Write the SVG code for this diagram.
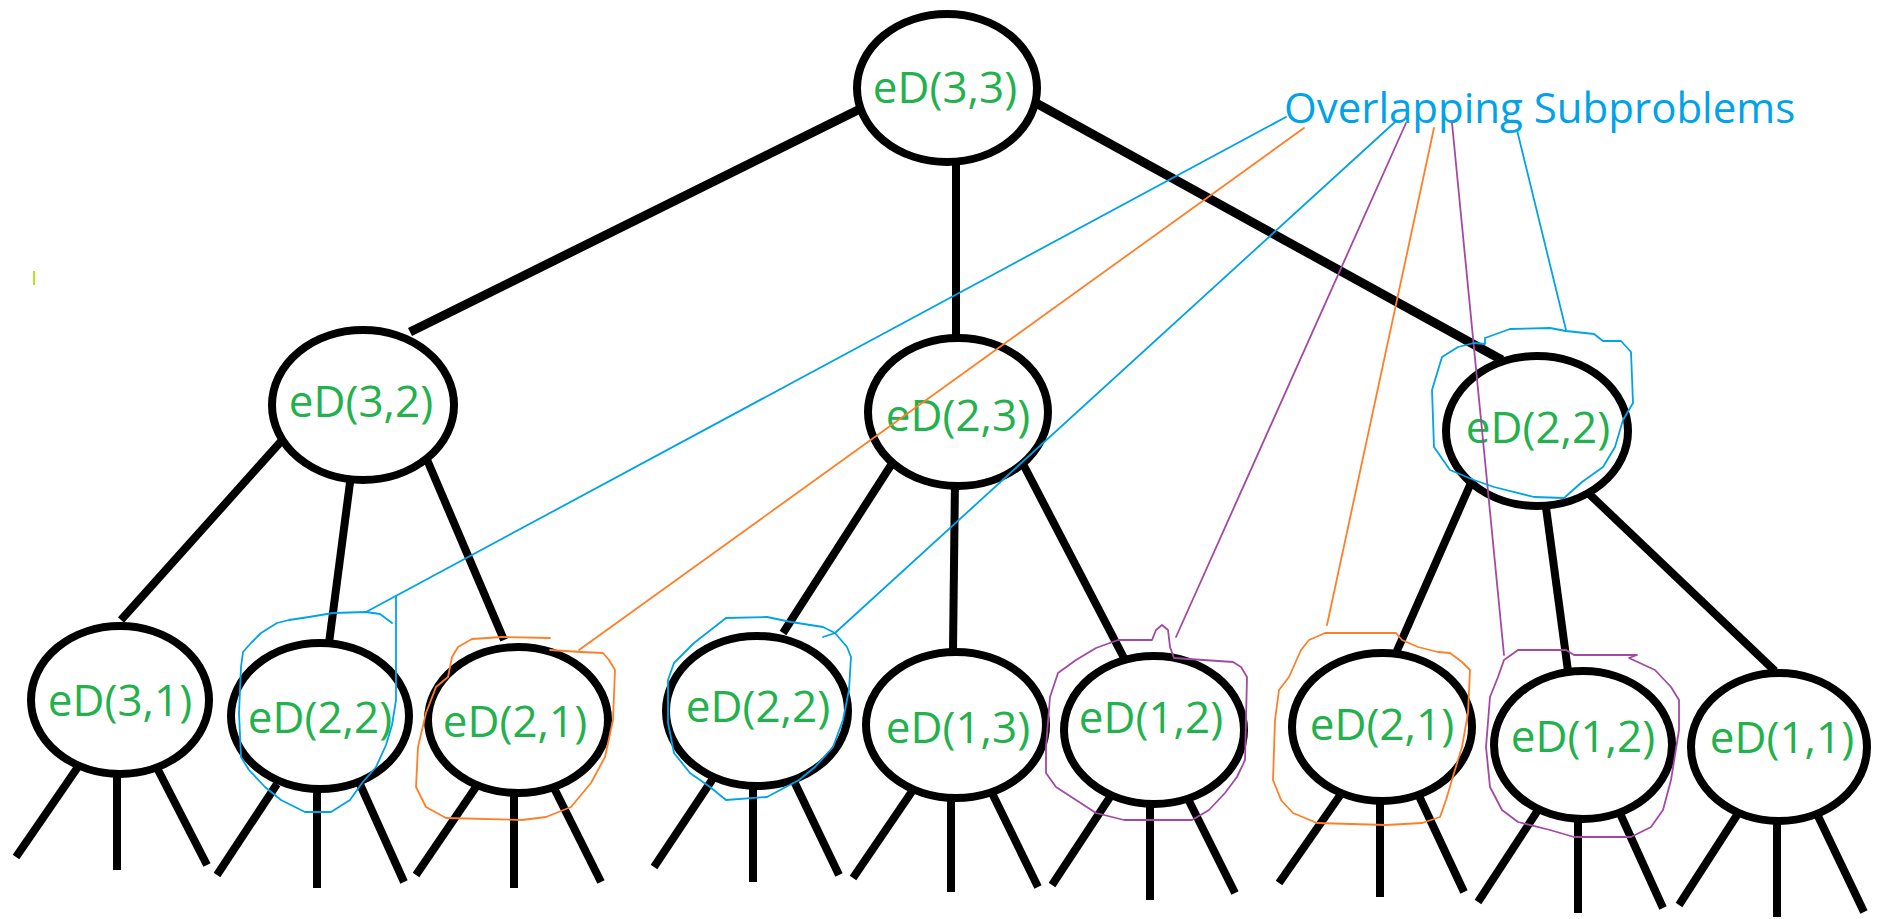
<svg xmlns="http://www.w3.org/2000/svg" width="1883" height="919" viewBox="0 0 1883 919">
  <style>
    .node ellipse { fill: #ffffff; stroke: #000000; stroke-width: 8; }
    .node text { font-family: "Open Sans", "Liberation Sans", sans-serif; font-size: 44px; fill: #22b14c; text-anchor: middle; }
    .edge { stroke: #000000; stroke-width: 8; stroke-linecap: butt; fill: none; }
    .note { fill: none; stroke-width: 1.8; stroke-linejoin: round; stroke-linecap: round; }
    .blue { stroke: #00a2e8; }
    .orange { stroke: #ff7f27; }
    .purple { stroke: #a349a4; }
    .note-label { font-family: "Open Sans", "Liberation Sans", sans-serif; font-size: 42px; fill: #00a2e8; }
  </style>
  <rect width="1883" height="919" fill="#ffffff"/>

  <!-- tree edges -->
  <g id="connectors">
    <line class="edge" x1="862" y1="108" x2="410" y2="332" style="stroke-width:9"/>
    <line class="edge" x1="956" y1="155" x2="956" y2="340"/>
    <line class="edge" x1="1036" y1="103" x2="1502" y2="360" style="stroke-width:9"/>

    <line class="edge" x1="285" y1="437" x2="121" y2="620"/>
    <line class="edge" x1="351" y1="475" x2="329" y2="643"/>
    <line class="edge" x1="425" y1="455" x2="504" y2="640"/>

    <line class="edge" x1="893" y1="462" x2="783" y2="633"/>
    <line class="edge" x1="955" y1="480" x2="953" y2="650"/>
    <line class="edge" x1="1022" y1="462" x2="1124" y2="658"/>

    <line class="edge" x1="1474" y1="476" x2="1396" y2="653"/>
    <line class="edge" x1="1545" y1="500" x2="1568" y2="671"/>
    <line class="edge" x1="1585" y1="490" x2="1775" y2="671"/>

    <!-- lower stubs -->
    <line class="edge" x1="80" y1="764" x2="16" y2="857"/>
    <line class="edge" x1="117" y1="770" x2="117" y2="870"/>
    <line class="edge" x1="156" y1="766" x2="207" y2="865"/>

    <line class="edge" x1="277" y1="784" x2="217" y2="875"/>
    <line class="edge" x1="317" y1="785" x2="317" y2="888"/>
    <line class="edge" x1="359" y1="782" x2="404" y2="882"/>

    <line class="edge" x1="478" y1="784" x2="416" y2="875"/>
    <line class="edge" x1="514" y1="789" x2="514" y2="888"/>
    <line class="edge" x1="553" y1="786" x2="601" y2="882"/>

    <line class="edge" x1="716" y1="774" x2="654" y2="867"/>
    <line class="edge" x1="753" y1="782" x2="753" y2="882"/>
    <line class="edge" x1="792" y1="777" x2="839" y2="875"/>

    <line class="edge" x1="915" y1="787" x2="853" y2="878"/>
    <line class="edge" x1="951" y1="794" x2="951" y2="892"/>
    <line class="edge" x1="991" y1="791" x2="1038" y2="887"/>

    <line class="edge" x1="1112" y1="794" x2="1052" y2="885"/>
    <line class="edge" x1="1150" y1="799" x2="1150" y2="900"/>
    <line class="edge" x1="1187" y1="797" x2="1235" y2="893"/>

    <line class="edge" x1="1341" y1="794" x2="1279" y2="883"/>
    <line class="edge" x1="1380" y1="797" x2="1380" y2="897"/>
    <line class="edge" x1="1419" y1="796" x2="1464" y2="892"/>

    <line class="edge" x1="1540" y1="807" x2="1478" y2="902"/>
    <line class="edge" x1="1578" y1="814" x2="1578" y2="913"/>
    <line class="edge" x1="1618" y1="809" x2="1663" y2="908"/>

    <line class="edge" x1="1739" y1="812" x2="1679" y2="905"/>
    <line class="edge" x1="1777" y1="817" x2="1777" y2="917"/>
    <line class="edge" x1="1817" y1="814" x2="1864" y2="912"/>
  </g>

  <!-- calls -->
  <g id="n-3-3" class="node"><ellipse cx="947" cy="88" rx="90" ry="74"/><text x="945" y="103">eD(3,3)</text></g>
  <g id="n-3-2" class="node"><ellipse cx="363" cy="405" rx="91" ry="75"/><text x="361" y="417">eD(3,2)</text></g>
  <g id="n-2-3" class="node"><ellipse cx="958" cy="412" rx="90" ry="74"/><text x="958" y="431">eD(2,3)</text></g>
  <g id="n-2-2-a" class="node"><ellipse cx="1537" cy="431" rx="91" ry="75"/><text x="1538" y="443">eD(2,2)</text></g>

  <g id="n-3-1" class="node"><ellipse cx="120" cy="700" rx="89" ry="74"/><text x="120" y="716">eD(3,1)</text></g>
  <g id="n-2-2-b" class="node"><ellipse cx="320" cy="716" rx="89" ry="73"/><text x="320" y="733">eD(2,2)</text></g>
  <g id="n-2-1-a" class="node"><ellipse cx="518" cy="720" rx="90" ry="73"/><text x="515" y="737">eD(2,1)</text></g>
  <g id="n-2-2-c" class="node"><ellipse cx="757" cy="711" rx="91" ry="75"/><text x="758" y="722">eD(2,2)</text></g>
  <g id="n-1-3" class="node"><ellipse cx="956" cy="725" rx="90" ry="73"/><text x="958" y="743">eD(1,3)</text></g>
  <g id="n-1-2-a" class="node"><ellipse cx="1154" cy="730" rx="90" ry="74"/><text x="1151" y="733">eD(1,2)</text></g>
  <g id="n-2-1-b" class="node"><ellipse cx="1382" cy="727" rx="90" ry="74"/><text x="1382" y="740">eD(2,1)</text></g>
  <g id="n-1-2-b" class="node"><ellipse cx="1583" cy="745" rx="89" ry="74"/><text x="1583" y="752">eD(1,2)</text></g>
  <g id="n-1-1" class="node"><ellipse cx="1779" cy="747" rx="88" ry="74"/><text x="1782" y="753">eD(1,1)</text></g>

  <!-- hand-drawn annotation: repeated subproblems -->
  <g id="overlap-note">
    <text class="note-label" x="1284" y="123">Overlapping Subproblems</text>

    <line class="note blue" x1="1286" y1="117" x2="366" y2="612"/>
    <path class="note blue" d="M396,596 L396,700 L392,725 L386,745 L376,767 L362,783 L350,800 L331,812 L305,812 L281,800 L265,787 L249,770 L241,757 L239,713 L241,667 L243,652 L251,643 L261,633 L277,623 L289,620 L309,617 L333,613 L366,612 L380,614 L392,623"/>

    <line class="note orange" x1="1304" y1="128" x2="579" y2="650"/>
    <path class="note orange" d="M550,638 L502,637 L472,639 L458,647 L452,657 L448,677 L436,687 L426,713 L418,747 L416,787 L426,807 L446,818 L522,820 L546,817 L571,807 L591,783 L605,757 L613,720 L615,670 L609,660 L603,653 L581,652 L550,650"/>

    <line class="note blue" x1="1395" y1="122" x2="835" y2="633"/>
    <path class="note blue" d="M823,637 L835,633 L847,647 L851,657 L849,690 L843,720 L833,747 L815,767 L799,780 L767,797 L726,800 L710,787 L690,773 L674,753 L668,723 L668,680 L674,663 L694,643 L726,618 L767,617 L791,622 L823,627 L835,633"/>

    <line class="note purple" x1="1406" y1="123" x2="1176" y2="637"/>
    <path class="note purple" d="M1152,640 L1118,640 L1096,648 L1076,660 L1058,673 L1050,697 L1046,747 L1046,773 L1056,787 L1076,800 L1096,813 L1124,820 L1192,820 L1209,810 L1225,793 L1237,777 L1245,760 L1247,677 L1241,667 L1233,662 L1174,658 L1170,647 L1168,630 L1162,625 L1156,630 L1152,640"/>

    <line class="note orange" x1="1434" y1="128" x2="1327" y2="625"/>
    <path class="note orange" d="M1396,633 L1325,633 L1309,640 L1301,650 L1289,677 L1279,690 L1275,720 L1273,780 L1281,800 L1293,813 L1317,823 L1386,825 L1422,823 L1440,817 L1446,800 L1454,773 L1462,747 L1468,713 L1470,670 L1462,662 L1450,653 L1438,652 L1418,647 L1402,640 L1396,633"/>

    <line class="note purple" x1="1452" y1="123" x2="1504" y2="655"/>
    <path class="note purple" d="M1504,660 L1518,650 L1566,650 L1574,655 L1637,655 L1629,658 L1655,670 L1671,687 L1679,700 L1679,730 L1671,780 L1663,810 L1651,827 L1631,837 L1574,837 L1550,830 L1518,822 L1502,810 L1490,787 L1486,747 L1490,697 L1498,677 L1504,660"/>

    <line class="note blue" x1="1517" y1="130" x2="1566" y2="330"/>
    <path class="note blue" d="M1485,338 L1510,329 L1550,328 L1566,331 L1594,334 L1603,341 L1621,341 L1631,352 L1633,403 L1623,420 L1615,447 L1603,467 L1582,482 L1564,498 L1534,497 L1494,487 L1474,480 L1450,470 L1434,447 L1432,390 L1442,357 L1458,347 L1474,343 L1485,344 L1485,338"/>
  </g>

  <!-- stray pen tick -->
  <line x1="34" y1="271" x2="34" y2="285" stroke="#b5e61d" stroke-width="2"/>
</svg>
